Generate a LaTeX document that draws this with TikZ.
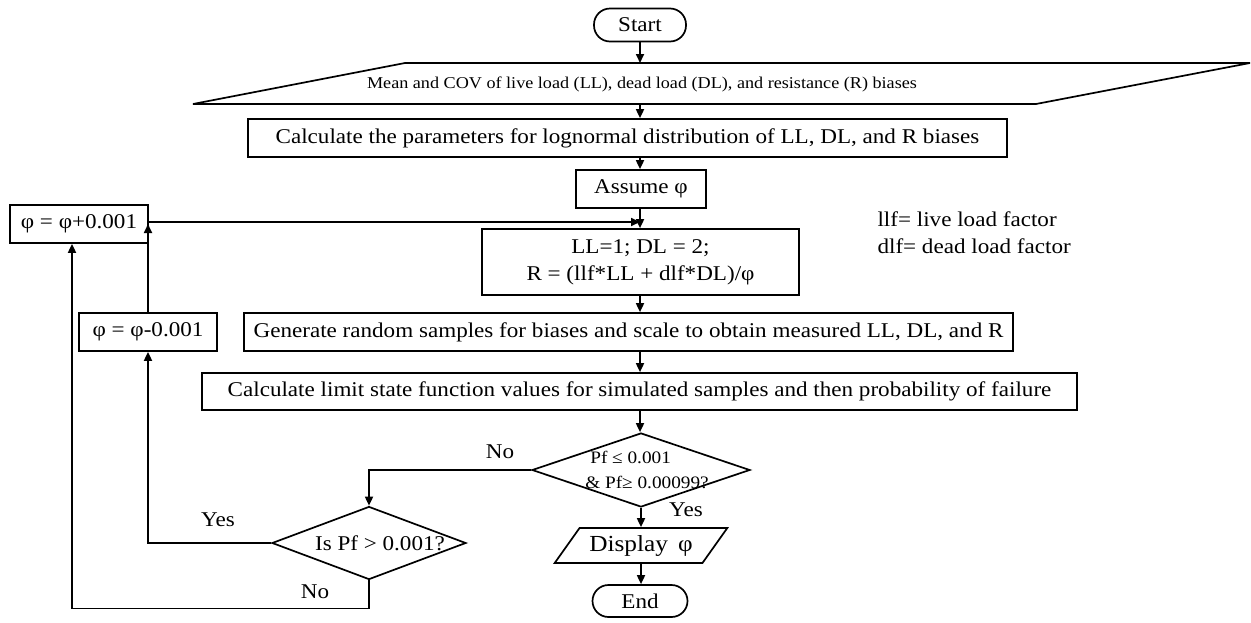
\documentclass[tikz,border=0pt]{standalone}
\usepackage{fontspec}
\setmainfont{Liberation Serif}[FakeStretch=1.1]
\usetikzlibrary{shapes.geometric, arrows.meta, positioning}

\begin{document}
\begin{tikzpicture}[x=1pt, y=-1pt,
  procbox/.style={rectangle, draw=black, line width=1.7pt, minimum height=38pt, inner sep=3pt, align=center, font=\fontsize{21}{25}\selectfont},
  termbox/.style={rectangle, draw=black, line width=1.7pt, rounded corners=16pt, minimum width=92pt, minimum height=33pt, font=\fontsize{21}{25}\selectfont},
  iobox/.style={trapezium, draw=black, line width=1.7pt, trapezium stretches=true, inner sep=0pt},
  decbox/.style={diamond, draw=black, line width=1.7pt, inner sep=0pt},
  lbl/.style={font=\fontsize{21}{25}\selectfont},
  arrow/.style={-{Triangle[length=9pt,width=8pt]}, line width=1.7pt}
]
  \useasboundingbox (0,0) rectangle (1251,622);

  % main column
  \node[termbox] (start) at (640,25) {Start};
  \coordinate (inTL) at (405,63);
  \coordinate (inTR) at (1250,63);
  \coordinate (inBR) at (1036,104);
  \coordinate (inBL) at (193,104);
  \draw[line width=1.7pt, line join=miter] (inTL) -- (inTR) -- (inBR) -- (inBL) -- cycle;
  \node[font=\fontsize{16.5}{20}\selectfont] (input) at (642,84) {Mean and COV of live load (LL), dead load (DL), and resistance (R) biases};
  \node[procbox, minimum width=759pt] (calc) at (627.5,138) {Calculate the parameters for lognormal distribution of LL, DL, and R biases};
  \node[procbox, minimum width=130pt] (assume) at (641,189) {Assume φ};
  \node[procbox, minimum width=317pt, minimum height=66pt, font=\fontsize{21}{27}\selectfont] (load) at (640.5,262) {LL=1; DL = 2;\\R = (llf*LL + dlf*DL)/φ};
  \node[procbox, minimum width=769pt] (gen) at (628.5,332) {Generate random samples for biases and scale to obtain measured LL, DL, and R};
  \node[procbox, minimum width=875pt, minimum height=37pt] (limit) at (639.5,391.5) {Calculate limit state function values for simulated samples and then probability of failure};
  \node[decbox, minimum width=218pt, minimum height=74pt] (check) at (641,470) {};
  \node[align=left, font=\fontsize{17.5}{25}\selectfont] (checktxt) at (647,470) {\hspace*{5pt}Pf ≤ 0.001\\\& Pf≥ 0.00099?};
  \node[iobox, trapezium left angle=45, trapezium right angle=135, minimum width=173pt, minimum height=35pt, font=\fontsize{23}{27}\selectfont] (disp) at (641,545.5) {Display \,φ};
  \node[termbox, minimum width=95pt, minimum height=32pt] (end) at (640,601) {End};

  % loop back
  \node[decbox, minimum width=194pt, minimum height=73pt] (over) at (369,543) {};
  \node[lbl] (overtxt) at (380,543) {Is Pf > 0.001?};
  \node[procbox, minimum width=138pt] (plus) at (79,224) {φ = φ+0.001};
  \node[procbox, minimum width=138pt] (minus) at (148,332) {φ = φ-0.001};

  % legend
  \node[anchor=west, align=left, font=\fontsize{21}{27}\selectfont] (legend) at (874,233) {llf= live load factor\\dlf= dead load factor};

  \draw[arrow] (start.south) -- (start |- inTL);
  \draw[arrow] (start |- inBL) -- (start |- calc.north);
  \draw[arrow] (start |- calc.south) -- (start |- assume.north);
  \draw[arrow] (start |- assume.south) -- (start |- load.north);
  \draw[arrow] (start |- load.south) -- (start |- gen.north);
  \draw[arrow] (start |- gen.south) -- (start |- limit.north);
  \draw[arrow] (start |- limit.south) -- (start |- check.north);
  \draw[arrow] (check.south) -- (check.south |- disp.north);
  \draw[arrow] (check.south |- disp.south) -- (check.south |- end.north);
  \draw[arrow] (check.west) -| (over.north);
  \draw[arrow] (over.west) -| (minus.south);
  \draw[arrow] (over.south) -- ++(0,28) -| ([xshift=-7pt]plus.south);
  \draw[arrow] (minus.north) -- (minus.north |- plus.east);
  \draw[arrow] ([yshift=2pt]plus.east) -- ([yshift=2pt]plus.east -| start);

  \node[lbl] at (500,452) {No};
  \node[lbl] at (686,510) {Yes};
  \node[lbl] at (218,520) {Yes};
  \node[lbl] at (315,592) {No};
\end{tikzpicture}
\end{document}
